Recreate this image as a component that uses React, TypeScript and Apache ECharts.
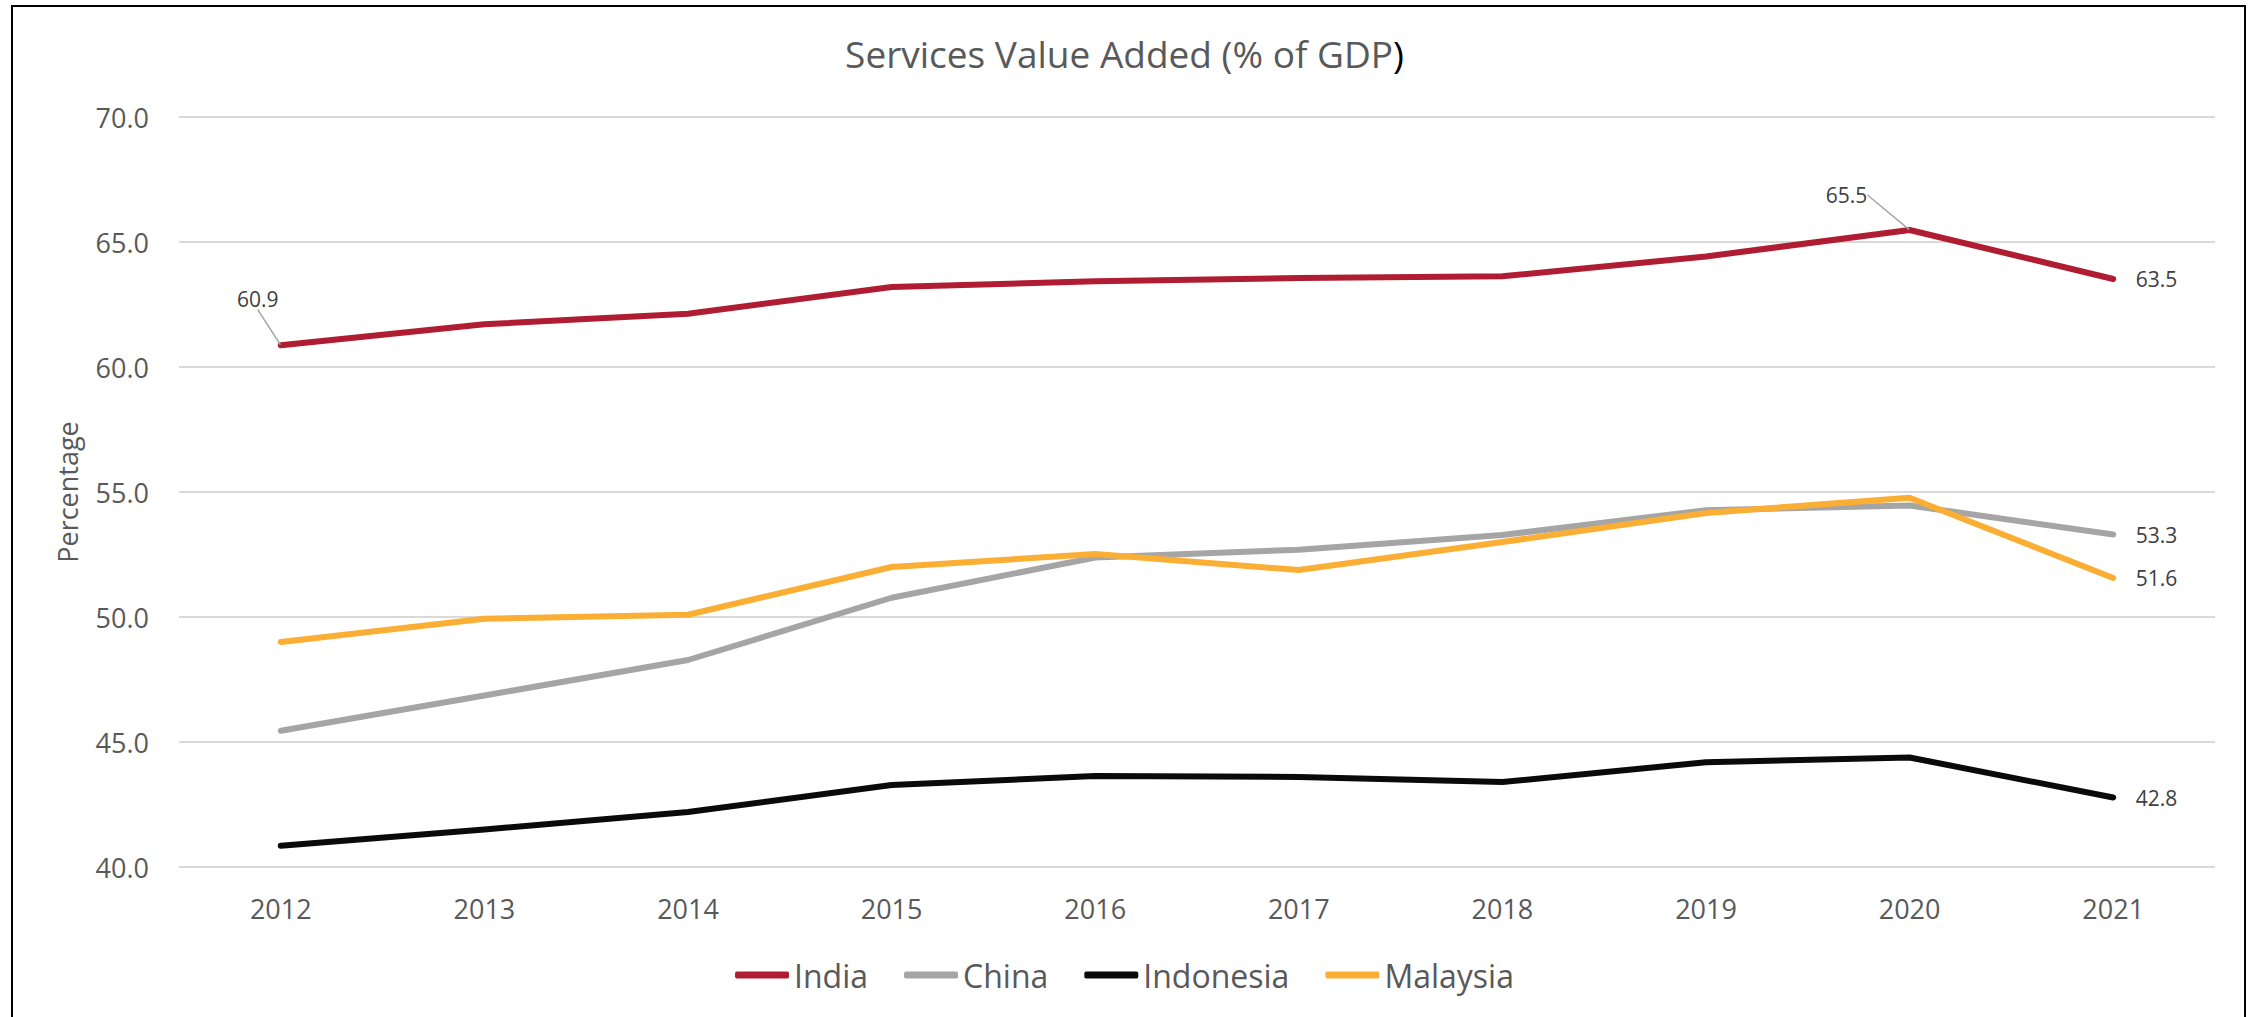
import { useEffect, useRef } from "react";
import * as echarts from "echarts";

const years = ["2012", "2013", "2014", "2015", "2016", "2017", "2018", "2019", "2020", "2021"];
const india = [60.87, 61.71, 62.13, 63.2, 63.43, 63.56, 63.63, 64.42, 65.48, 63.52];
const china = [45.45, 46.86, 48.28, 50.77, 52.38, 52.69, 53.28, 54.27, 54.46, 53.3];
const indonesia = [40.85, 41.5, 42.2, 43.28, 43.64, 43.6, 43.4, 44.19, 44.38, 42.78];
const malaysia = [49.0, 49.93, 50.09, 52.0, 52.52, 51.88, 53.0, 54.16, 54.77, 51.56];

const seriesNames = ["India", "China", "Indonesia", "Malaysia"];
const seriesValues = [india, china, indonesia, malaysia];
const seriesColors = ["#B01C31", "#A5A5A5", "#0A0A0A", "#FBAE34"];
const indiaCallouts = [0, 8];

const yMin = 40;
const yMax = 70;
const yStep = 5;

const FONT = "'Open Sans', 'Noto Sans', sans-serif";

function buildData(name: string, vals: number[]) {
  return vals.map((v, i) => {
    if (i === vals.length - 1) {
      return { value: v, label: { show: true, position: "right", distance: 22 } };
    }
    if (name === "India" && indiaCallouts.includes(i)) {
      return { value: v, label: { show: true, position: "inside" }, labelLine: { show: true } };
    }
    return v;
  });
}

export default function App() {
  const ref = useRef<HTMLDivElement>(null);
  useEffect(() => {
    document.body.style.margin = "0";
    const chart = echarts.init(ref.current!, null, { renderer: "svg" });
    const option: any = {
      animation: false,
      backgroundColor: "#ffffff",
      title: {
        text: "{a|Services Value Added (% of GDP}{b|)}",
        left: "center",
        top: 30,
        textStyle: {
          fontWeight: "normal",
          rich: {
            a: { fontFamily: FONT, fontSize: 37, fontWeight: "normal", color: "#595959" },
            b: { fontFamily: FONT, fontSize: 37, fontWeight: "normal", color: "#000000" },
          },
        },
      },
      graphic: [
        {
          type: "rect",
          shape: { x: 12, y: 6, width: 2233, height: 1040 },
          style: { fill: "none", stroke: "#000000", lineWidth: 2 },
          silent: true,
          z: 100,
        },
      ],
      legend: {
        data: seriesNames,
        left: "center",
        top: 954,
        icon: "roundRect",
        itemWidth: 54,
        itemHeight: 7,
        itemGap: 36,
        textStyle: { fontFamily: FONT, fontSize: 32, color: "#595959" },
      },
      grid: { left: 179, right: 34, top: 117, bottom: 150, containLabel: false },
      xAxis: {
        type: "category",
        data: years,
        boundaryGap: true,
        axisLine: { show: false },
        axisTick: { show: false },
        axisLabel: { fontFamily: FONT, fontSize: 27, color: "#595959", margin: 28 },
      },
      yAxis: {
        type: "value",
        min: yMin,
        max: yMax,
        interval: yStep,
        name: "Percentage",
        nameLocation: "middle",
        nameGap: 98,
        nameRotate: 90,
        nameTextStyle: { fontFamily: FONT, fontSize: 27, color: "#595959" },
        axisLine: { show: false },
        axisTick: { show: false },
        axisLabel: {
          fontFamily: FONT,
          fontSize: 27,
          color: "#595959",
          margin: 30,
          formatter: (v: number) => v.toFixed(1),
        },
        splitLine: { lineStyle: { color: "#D9D9D9", width: 2 } },
      },
      series: seriesNames.map((name, k) => ({
        name,
        type: "line",
        data: buildData(name, seriesValues[k]),
        symbol: "circle",
        symbolSize: 1,
        showSymbol: true,
        color: seriesColors[k],
        itemStyle: { color: seriesColors[k] },
        lineStyle: { width: 6, color: seriesColors[k], cap: "round", join: "round" },
        emphasis: { disabled: true },
        label: {
          show: false,
          fontFamily: FONT,
          fontSize: 21,
          color: "#404040",
          formatter: (p: any) => Number(p.value).toFixed(1),
        },
        labelLine: { show: false, lineStyle: { color: "#A6A6A6", width: 1.5 } },
        labelLayout:
          name === "India"
            ? (p: any) =>
                p.dataIndex === indiaCallouts[0]
                  ? { dx: -23, dy: -46 }
                  : p.dataIndex === indiaCallouts[1]
                  ? { dx: -63, dy: -35 }
                  : {}
            : undefined,
      })),
    };
    chart.setOption(option);
    return () => chart.dispose();
  }, []);
  return <div ref={ref} style={{ width: 2249, height: 1017, background: "#fff" }} />;
}
